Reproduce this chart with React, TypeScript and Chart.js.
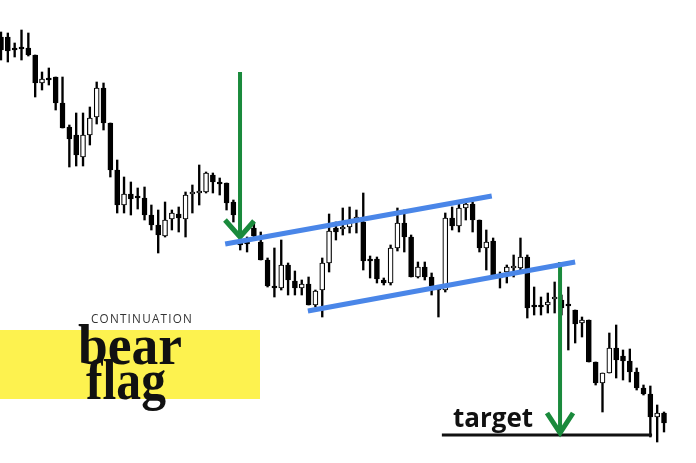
import React, { useEffect, useRef } from "react";
import { Chart, registerables } from "chart.js";

Chart.register(...registerables);

// Candle prices (arbitrary price units), one entry per session
const OPEN = [426, 426, 414, 415, 415, 408, 380, 384, 386, 360, 336, 328, 306, 328, 346, 375, 340, 293, 258, 269,
  266, 265, 248, 238, 227, 244, 249, 244, 269, 270, 271, 288, 281, 280, 261, 221, 220, 235, 221, 203,
  177, 175, 198, 182, 175, 179, 158, 173, 200, 235, 234, 236, 241, 241, 203, 204, 183, 180, 215, 240,
  226, 186, 196, 186, 174, 173, 245, 237, 255, 259, 243, 215, 222, 188, 191, 195, 195, 206, 157, 157,
  158, 164, 163, 158, 153, 140, 143, 101, 80, 90, 115, 107, 102, 91, 75, 69, 46, 50];
const HIGH = [431, 430, 420, 433, 430, 408, 391, 395, 386, 386, 338, 350, 350, 356, 381, 380, 340, 303, 286, 281,
  275, 276, 258, 253, 261, 253, 256, 271, 278, 298, 291, 290, 285, 280, 263, 225, 226, 241, 231, 205,
  215, 223, 200, 192, 183, 186, 173, 205, 249, 241, 255, 256, 253, 270, 207, 206, 185, 218, 255, 253,
  228, 201, 201, 190, 175, 250, 256, 259, 260, 261, 243, 233, 225, 191, 198, 208, 225, 208, 176, 166,
  170, 181, 168, 176, 153, 146, 143, 101, 90, 130, 138, 113, 114, 95, 78, 77, 58, 51];
const LOW = [403, 401, 406, 403, 407, 366, 373, 378, 353, 335, 296, 297, 297, 318, 339, 333, 286, 250, 250, 248,
  254, 243, 233, 210, 226, 233, 231, 226, 250, 258, 270, 270, 268, 253, 241, 213, 211, 223, 203, 176,
  166, 173, 168, 168, 168, 158, 156, 146, 191, 223, 228, 230, 230, 193, 185, 180, 178, 178, 212, 211,
  186, 185, 183, 168, 146, 171, 233, 231, 243, 231, 211, 193, 187, 175, 180, 186, 191, 145, 148, 148,
  150, 150, 148, 113, 120, 126, 101, 78, 51, 90, 85, 83, 81, 73, 68, 26, 21, 31];
const CLOSE = [413, 412, 413, 414, 408, 380, 384, 383, 360, 335, 324, 308, 328, 345, 375, 340, 293, 258, 269, 264,
  265, 248, 238, 228, 243, 250, 245, 268, 270, 271, 290, 281, 279, 260, 248, 218, 219, 227, 203, 177,
  175, 198, 183, 175, 179, 158, 172, 200, 232, 231, 236, 241, 246, 202, 202, 184, 180, 215, 240, 226,
  186, 196, 186, 177, 173, 245, 237, 255, 259, 243, 215, 221, 188, 185, 196, 196, 206, 155, 156, 156,
  161, 165, 155, 157, 139, 143, 101, 80, 90, 115, 103, 102, 91, 75, 69, 46, 50, 40];

// Annotation lines in (session index, price) units
const UPPER_FLAG = [{ x: 32.8, y: 219 }, { x: 71.8, y: 267 }];
const LOWER_FLAG = [{ x: 44.9, y: 152 }, { x: 84.0, y: 201 }];
const POLE_SHAFT = [{ x: 34.97, y: 391 }, { x: 34.97, y: 229 }];
const POLE_HEAD = [{ x: 32.77, y: 243 }, { x: 34.97, y: 226 }, { x: 37.02, y: 242 }];
const TARGET_SHAFT = [{ x: 81.79, y: 201 }, { x: 81.79, y: 33 }];
const TARGET_HEAD = [{ x: 79.88, y: 50 }, { x: 81.79, y: 30 }, { x: 83.69, y: 50 }];
const TARGET_LINE = [{ x: 64.5, y: 28 }, { x: 95.25, y: 28 }];

const TITLE_SMALL = "CONTINUATION";
const TITLE_LINE1 = "bear";
const TITLE_LINE2 = "flag";
const TARGET_LABEL = "target";

const BLUE = "#4a86e8";
const GREEN = "#1a8a3c";

const textPlugin = {
  id: "bearFlagText",
  beforeDatasetsDraw(chart: any) {
    const ctx = chart.ctx;
    ctx.save();
    ctx.fillStyle = "#fdf24f";
    ctx.fillRect(0, 330, 260, 69);
    ctx.restore();
  },
  afterDraw(chart: any) {
    const ctx = chart.ctx;
    ctx.save();
    ctx.textBaseline = "alphabetic";
    ctx.textAlign = "left";
    ctx.fillStyle = "#333333";
    ctx.font = '500 12.5px "Open Sans"';
    try { (ctx as any).letterSpacing = "1.3px"; } catch (e) {}
    ctx.fillText(TITLE_SMALL, 91, 323, 102);
    try { (ctx as any).letterSpacing = "0px"; } catch (e) {}
    ctx.fillStyle = "#111111";
    ctx.font = 'bold 57px "Liberation Serif"';
    ctx.fillText(TITLE_LINE1, 78, 364, 104);
    ctx.fillText(TITLE_LINE2, 86, 399, 80);
    ctx.font = 'bold 26px "Open Sans"';
    ctx.fillText(TARGET_LABEL, 453, 427, 84);
    ctx.restore();
  },
};

export default function App() {
  const ref = useRef<HTMLCanvasElement | null>(null);

  useEffect(() => {
    document.body.style.margin = "0";
    const canvas = ref.current;
    if (!canvas) return;
    const idx = OPEN.map((_, i) => i);
    const bodies = idx.map((i) => ({ x: i, y: [OPEN[i], CLOSE[i]] }));
    const wicks = idx.map((i) => ({ x: i, y: [LOW[i], HIGH[i]] }));
    const bodyColors = idx.map((i) => (CLOSE[i] >= OPEN[i] ? "#ffffff" : "#000000"));

    const lineDs = (data: any[], color: string, width: number) => ({
      type: "line" as const,
      data,
      borderColor: color,
      borderWidth: width,
      pointRadius: 0,
      fill: false,
      tension: 0,
      borderCapStyle: "butt" as const,
      borderJoinStyle: "miter" as const,
      order: 0,
    });

    const chart = new Chart(canvas, {
      type: "bar",
      data: {
        datasets: [
          lineDs(UPPER_FLAG, BLUE, 5),
          lineDs(LOWER_FLAG, BLUE, 5),
          lineDs(POLE_SHAFT, GREEN, 4),
          lineDs(POLE_HEAD, GREEN, 5),
          lineDs(TARGET_SHAFT, GREEN, 4),
          lineDs(TARGET_HEAD, GREEN, 5),
          lineDs(TARGET_LINE, "#111111", 3),
          {
            type: "bar",
            data: bodies as any,
            backgroundColor: bodyColors,
            borderColor: "#000000",
            borderWidth: 1.2,
            borderSkipped: false,
            barThickness: 5,
            minBarLength: 2,
            grouped: false,
            order: 1,
          } as any,
          {
            type: "bar",
            data: wicks as any,
            backgroundColor: "#000000",
            borderWidth: 0,
            barThickness: 1.7,
            grouped: false,
            order: 2,
          } as any,
        ],
      },
      options: {
        animation: false,
        responsive: false,
        events: [],
        layout: { padding: 0 },
        plugins: { legend: { display: false }, tooltip: { enabled: false } },
        scales: {
          x: { type: "linear", min: -0.146, max: 101.68, display: false, offset: false },
          y: { type: "linear", min: 0, max: 463, display: false },
        },
      },
      plugins: [textPlugin],
    });
    return () => chart.destroy();
  }, []);

  return (
    <div style={{ width: 696, height: 463, background: "#ffffff" }}>
      <canvas ref={ref} width={696} height={463} style={{ display: "block" }} />
    </div>
  );
}
